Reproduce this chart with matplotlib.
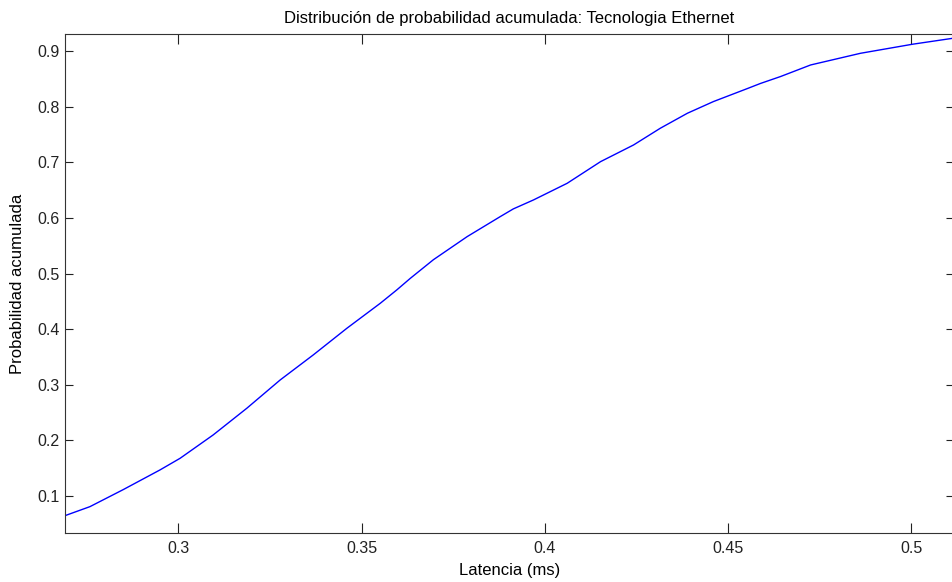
import matplotlib
matplotlib.use("Agg")
import matplotlib.pyplot as plt

latencia_ms = [0.2691, 0.2759, 0.2850, 0.2950, 0.3005, 0.3095, 0.3187, 0.3278,
               0.3368, 0.3460, 0.3551, 0.3596, 0.3633, 0.3696, 0.3788, 0.3878,
               0.3914, 0.3969, 0.4061, 0.4152, 0.4242, 0.4315, 0.4389, 0.4460,
               0.4553, 0.4588, 0.4643, 0.4725, 0.4861, 0.5003, 0.5116]
prob_acum = [0.0646, 0.0808, 0.1115, 0.1468, 0.1678, 0.2097, 0.2578, 0.3087,
             0.3536, 0.4017, 0.4466, 0.4706, 0.4915, 0.5250, 0.5665, 0.6024,
             0.6164, 0.6325, 0.6625, 0.7014, 0.7314, 0.7615, 0.7885, 0.8095,
             0.8330, 0.8420, 0.8545, 0.8753, 0.8963, 0.9126, 0.9236]

x_ticks = [0.3, 0.35, 0.4, 0.45, 0.5]
x_ticklabels = ["0.3", "0.35", "0.4", "0.45", "0.5"]
y_ticks = [0.1, 0.2, 0.3, 0.4, 0.5, 0.6, 0.7, 0.8, 0.9]
y_ticklabels = ["0.1", "0.2", "0.3", "0.4", "0.5", "0.6", "0.7", "0.8", "0.9"]

plt.rcParams['font.family'] = ['Liberation Sans', 'DejaVu Sans']

fig = plt.figure(figsize=(9.53, 5.82), dpi=100)
ax = fig.add_axes([65/953, 1 - 533/582, 1 - 65/953 + 0.001, (533 - 34)/582])

ax.plot(latencia_ms, prob_acum, color=(0, 0, 1), linewidth=1.0)

ax.set_xlim(0.2691, 0.5116)
ax.set_ylim(0.0334, 0.931)
ax.set_xticks(x_ticks)
ax.set_xticklabels(x_ticklabels)
ax.set_yticks(y_ticks)
ax.set_yticklabels(y_ticklabels)

ax.tick_params(axis='both', direction='in', top=True, right=True,
               labelsize=11.5, colors='#222222', width=0.8)
ax.tick_params(axis='x', length=7, pad=6)
ax.tick_params(axis='y', length=5.5, pad=4)
for s in ax.spines.values():
    s.set_color('#333333')
    s.set_linewidth(0.8)

ax.set_title("Distribución de probabilidad acumulada: Tecnologia Ethernet",
             fontsize=12, pad=8)
ax.set_xlabel("Latencia (ms)", fontsize=12, labelpad=5)
ax.set_ylabel("Probabilidad acumulada", fontsize=12, labelpad=9)

fig.savefig("out.png", dpi=100)
